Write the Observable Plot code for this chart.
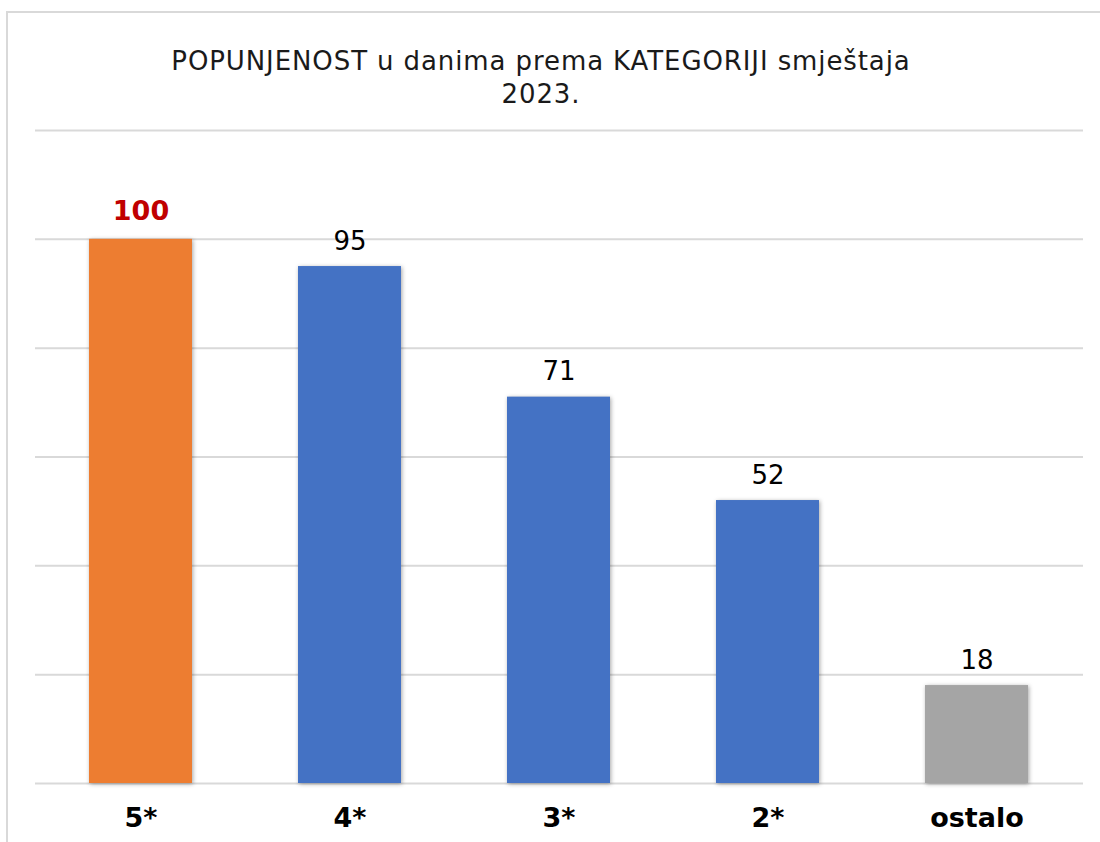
<!DOCTYPE html>
<html>
<head>
<meta charset="utf-8">
<script src="https://cdn.jsdelivr.net/npm/d3@7"></script>
<script src="https://cdn.jsdelivr.net/npm/@observablehq/plot@0.6"></script>
<style>
  html, body { margin: 0; padding: 0; background: #fff; }
  body { width: 1100px; height: 842px; position: relative; overflow: hidden; font-family: "DejaVu Sans", Verdana, sans-serif; }
  #frame { position: absolute; left: 6px; top: 11px; width: 1200px; height: 900px; border-left: 2px solid #d9d9d9; border-top: 2px solid #d9d9d9; }
  #title { position: absolute; left: 0; top: 45px; width: 1082px; text-align: center; font-family: "DejaVu Sans", sans-serif; font-size: 26px; letter-spacing: 0.9px; line-height: 33px; color: #1a1a1a; }
  #chart { position: absolute; left: 0; top: 0; }
  #chart g[aria-label="bar"] rect { filter: drop-shadow(1px 1px 2px rgba(0,0,0,0.35)); }
</style>
</head>
<body>
<div id="frame"></div>
<div id="chart"></div>
<div id="title">POPUNJENOST u danima prema KATEGORIJI smještaja<br>2023.</div>
<script>
const categories = ["5*", "4*", "3*", "2*", "ostalo"];
const values = [100, 95, 71, 52, 18];
const colors = ["#ED7D31", "#4472C4", "#4472C4", "#4472C4", "#A5A5A5"];
const gridTicks = [0, 20, 40, 60, 80, 100, 120];

const data = categories.map((c, i) => ({cat: c, value: values[i], color: colors[i], top: i === 0}));

const chart = Plot.plot({
  width: 1100,
  height: 842,
  marginTop: 130,
  marginBottom: 59,
  marginLeft: 35,
  marginRight: 17,
  style: {background: "transparent", fontFamily: "DejaVu Sans, sans-serif"},
  x: {domain: categories, paddingInner: 0.505, paddingOuter: 0.25, label: null},
  y: {domain: [0, 120], axis: null},
  marks: [
    Plot.ruleY(gridTicks, {stroke: "#d9d9d9", strokeWidth: 2}),
    Plot.barY(data, {x: "cat", y: "value", fill: "color"}),
    Plot.text(data.filter(d => !d.top), {x: "cat", y: "value", text: d => String(d.value), dy: -17, lineAnchor: "bottom", fontSize: 26, fill: "#000"}),
    Plot.text(data.filter(d => d.top), {x: "cat", y: "value", text: d => String(d.value), dy: -19, lineAnchor: "bottom", fontSize: 27, fontWeight: "bold", fill: "#C00000"}),
    Plot.axisX({tickSize: 0, tickPadding: 24, fontSize: 27, fontWeight: "bold", fill: "#000", label: null})
  ]
});
document.getElementById("chart").appendChild(chart);
</script>
</body>
</html>
